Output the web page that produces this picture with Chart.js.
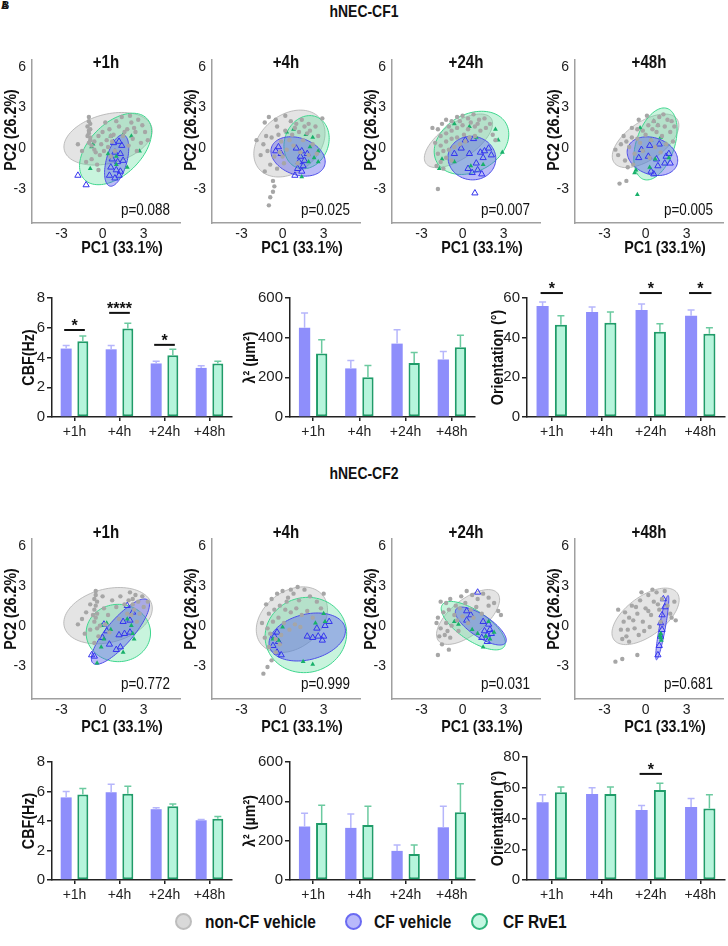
<!DOCTYPE html>
<html>
<head>
<meta charset="utf-8">
<script src="https://cdn.jsdelivr.net/npm/chart.js@4.4.1/dist/chart.umd.min.js"></script>
<style>
  body { margin: 0; width: 728px; height: 946px; background: #fff; position: relative; overflow: hidden;
         font-family: "Liberation Sans", Arial, sans-serif; color: #111; }
  .head { position: absolute; left: 0; width: 728px; text-align: center; font-weight: bold; font-size: 17px;
          transform: scaleX(0.82); transform-origin: 364px 0; }
  .tag { position: absolute; left: 1px; top: 0; font-weight: bold; font-size: 10px; }
  .leg { position: absolute; top: 911px; font-weight: bold; font-size: 18px; line-height: 22px;
         transform: scaleX(0.86); transform-origin: 0 0; }
  .dot { position: absolute; top: 913px; width: 13px; height: 13px; border-radius: 50%; border: 2px solid; }
</style>
</head>
<body>
<div class="tag">A</div><div class="tag" style="left:2px">B</div>
<div class="head" style="top:2px">hNEC-CF1</div>
<div class="head" style="top:464px">hNEC-CF2</div>
<span class="dot" style="left:175px;background:#d9d9d9;border-color:#bdbdbd"></span>
<span class="leg" style="left:205px">non-CF vehicle</span>
<span class="dot" style="left:345px;background:#b9b9fb;border-color:#6a6af2"></span>
<span class="leg" style="left:374px">CF vehicle</span>
<span class="dot" style="left:471px;background:#c4f7e2;border-color:#2fb57c"></span>
<span class="leg" style="left:503px">CF RvE1</span>
<script>
const timepoints = ['+1h', '+4h', '+24h', '+48h'];
const pcTicksX = [-3, 0, 3];
const pcTicksY = [-3, 0, 3, 6];

// ---- hNEC-CF1 PCA ----
const cf1PValues = ['p=0.088', 'p=0.025', 'p=0.007', 'p=0.005'];
// ellipse: [centerX, centerY, semiMajor, semiMinor, angleDeg]
const cf1GrayEll = [[0.4, 0.7, 3.3, 1.8, 15], [0.5, 0.35, 2.9, 2.1, 40], [-0.3, 0.55, 2.9, 1.3, 35], [0, 0.55, 2.8, 1.4, 35]];
const cf1GreenEll = [[0.95, -0.05, 3.2, 1.9, 45], [1.75, 0.45, 2.0, 1.6, 70], [0.65, 0.4, 2.9, 2.1, 30], [0.72, 0.32, 2.75, 1.4, 72]];
const cf1BlueEll = [[1.03, -0.9, 1.95, 0.75, 75], [1.13, -0.6, 2.05, 1.35, -20], [0.68, -0.72, 1.75, 1.6, -10], [0.5, -0.58, 1.9, 1.35, -20]];
const cf1Gray = [
  [[-1.0,2.3],[-1.0,2.0],[-0.9,1.8],[-1.1,1.6],[-0.9,1.4],[-1.0,1.1],[-1.1,0.9],[-0.9,0.6],[-1.0,0.4],[-0.8,0.2],[-0.6,0.5],[-0.3,0.9],[0.0,1.2],[0.3,0.6],[0.5,1.4],[0.8,1.0],[1.2,1.6],[1.5,0.9],[1.8,1.4],[2.1,1.9],[2.4,1.2],[2.6,2.1],[2.9,1.7],[3.1,1.2],[3.3,0.6],[2.8,0.4],[2.2,0.7],[1.9,0.2],[-0.5,-0.3],[-0.2,-0.5],[-0.8,-0.8],[-0.4,-1.2],[0.1,-0.2],[0.4,0.1],[-1.5,-0.2],[-1.8,0.3],[0.6,-0.6],[-0.3,-1.6],[1.0,2.0],[1.4,2.3],[0.2,1.9],[2.0,2.4],[2.5,-0.2],[-1.2,-1.0],[0.7,0.5],[-0.1,0.3],[-1.0,1.3],[-0.9,0.8],[0.6,0.9],[1.6,1.2],[2.3,1.5],[-0.6,-0.1],[0.9,-0.2]],
  [[-1.3,1.9],[-1.0,2.3],[-0.5,2.1],[0.2,2.4],[0.6,2.0],[1.0,1.8],[1.4,2.1],[1.9,1.8],[2.4,1.6],[2.9,2.2],[2.6,0.9],[2.2,0.3],[1.8,1.1],[1.2,1.2],[0.7,1.0],[0.2,1.3],[-0.3,1.0],[-0.8,0.8],[-1.4,0.3],[-1.9,0.6],[-1.6,-0.5],[-1.1,-0.2],[-0.6,-0.6],[-0.2,-0.3],[0.3,-0.1],[0.8,0.2],[1.3,-0.3],[1.9,-0.5],[2.5,-0.4],[-0.9,-1.2],[-0.4,-1.5],[0.1,-1.1],[-1.3,-1.7],[-0.7,-2.4],[-0.6,-2.8],[-0.7,-3.2],[-0.9,-3.6],[-1.0,-4.2],[0.5,0.6],[1.5,0.6],[-0.1,0.5],[2.0,1.3],[0.0,-0.6],[1.1,-1.1],[0.9,1.5],[-0.4,1.6],[1.6,1.6],[-1.2,0.9]],
  [[-2.2,1.5],[-1.8,1.4],[-1.5,1.8],[-1.2,2.1],[-0.8,2.0],[-0.4,2.3],[0.0,2.4],[0.4,2.2],[0.8,2.5],[1.2,2.1],[1.6,2.2],[2.0,1.8],[-1.6,0.9],[-1.2,1.1],[-0.8,1.3],[-0.4,1.5],[0.0,1.7],[0.4,1.4],[0.9,1.6],[1.3,1.3],[1.7,1.5],[-2.0,0.4],[-1.6,0.2],[-1.2,0.5],[-0.8,0.7],[-0.4,0.8],[0.1,1.0],[0.5,0.8],[0.9,0.9],[-1.8,-0.4],[-1.4,-0.2],[-1.0,-0.1],[-0.6,0.1],[-0.2,0.3],[-1.6,-1.0],[-1.2,-0.7],[-0.8,-0.9],[-1.9,-1.3],[-1.4,-1.5],[-1.8,-3.0],[2.2,1.0],[2.4,0.6],[-0.2,2.0],[0.6,1.9],[-1.0,1.6],[0.2,0.5],[1.1,1.8]],
  [[-2.0,-0.5],[-1.8,0.3],[-1.5,-0.9],[-1.6,0.9],[-1.2,0.1],[-1.0,0.8],[-0.8,-0.4],[-0.6,1.4],[-0.4,0.4],[-0.2,-0.2],[0.0,1.0],[0.2,1.7],[0.4,0.6],[0.6,2.0],[0.8,1.2],[1.0,2.3],[1.2,0.9],[1.4,1.6],[1.6,2.1],[1.8,1.2],[2.0,0.5],[2.1,1.6],[-1.0,1.5],[-0.5,2.1],[0.1,2.4],[0.7,0.1],[-1.3,-1.4],[-2.2,-0.1],[0.3,-0.7],[-0.9,-1.2],[1.5,0.3],[1.1,-0.3],[-1.9,-2.6],[-1.4,-2.4],[-0.2,1.3],[0.9,1.7],[1.9,2.0],[-0.6,0.7],[0.5,1.4],[-1.4,0.5],[1.3,2.5]]
];
const cf1Blue = [
  [[0.8,0.4],[1.2,0.5],[1.4,0.2],[0.9,-0.3],[1.3,-0.4],[0.7,-0.8],[1.1,-1.0],[1.5,-0.9],[0.6,-1.4],[1.0,-1.6],[1.3,-1.7],[0.5,-2.0],[0.9,-2.2],[1.2,-2.0],[-1.8,-2.0],[-1.2,-2.7]],
  [[-0.3,0.1],[-0.5,-0.2],[-0.1,-0.4],[1.0,0.0],[1.4,-0.2],[1.3,-0.6],[1.8,-0.4],[1.2,-1.0],[1.5,-1.3],[1.1,-1.5],[1.4,-1.7],[0.9,-2.0],[1.6,-0.9]],
  [[0.2,0.6],[0.8,0.7],[-0.1,0.0],[-0.6,-0.4],[0.5,-0.4],[1.3,-0.3],[1.6,-0.2],[1.9,0.0],[2.1,-0.5],[1.5,-0.7],[1.0,-1.1],[0.4,-1.5],[1.1,-1.6],[1.4,-1.9],[0.7,-1.8],[0.9,-3.3]],
  [[-0.3,-0.1],[0.3,0.2],[1.0,0.3],[-0.5,-0.7],[0.2,-0.6],[0.8,-0.8],[1.5,-0.6],[1.7,-0.4],[1.4,-1.1],[1.8,-1.1],[0.9,-1.3],[0.6,-1.9],[0.4,-1.7]]
];
const cf1Green = [
  [[0.6,0.9],[1.5,1.0],[2.1,0.9],[2.7,-0.2],[-0.8,0.1],[1.0,-0.6],[1.0,-1.2],[-0.9,-1.5],[1.8,-1.4],[0.4,-0.4],[-0.7,0.3]],
  [[0.8,1.4],[1.7,1.0],[2.2,0.8],[2.0,0.1],[2.6,-0.2],[2.3,-0.7],[1.9,-1.0],[2.6,-1.0],[1.4,-2.1],[0.3,1.2]],
  [[-0.6,1.8],[0.5,1.6],[1.0,0.8],[2.4,1.4],[2.6,0.6],[2.9,-0.3],[-1.5,-0.8],[-1.7,-1.5],[-0.6,-1.0],[1.5,-1.2],[0.6,-1.3]],
  [[-0.4,1.5],[0.6,2.0],[0.9,1.7],[1.1,0.8],[0.4,0.6],[1.5,0.3],[0.7,-0.8],[1.7,-0.7],[0.3,-1.4],[-0.7,-1.6],[-0.8,-1.8],[-0.6,-3.4]]
];

// ---- hNEC-CF2 PCA ----
const cf2PValues = ['p=0.772', 'p=0.999', 'p=0.031', 'p=0.681'];
const cf2GrayEll = [[0.4, 0.75, 3.3, 2.0, 15], [0.68, 0.45, 2.9, 2.1, 40], [0.4, 0.65, 2.8, 1.3, 40], [0, 0.7, 2.9, 1.45, 38]];
const cf2GreenEll = [[1.15, -0.55, 2.35, 2.15, 0], [1.7, -0.7, 3.0, 2.8, 20], [0.78, 0, 2.75, 1.1, -35], [1.12, -0.85, 0.35, 0.1, 85]];
const cf2BlueEll = [[1.3, -0.45, 3.1, 0.95, 50], [1.8, -0.85, 2.85, 1.7, 15], [1.33, -0.03, 2.2, 0.8, -35], [1.22, -0.15, 2.45, 0.22, 80]];
const cf2Gray = [
  [[-0.5,2.6],[-0.5,2.3],[-0.6,2.0],[-0.4,1.8],[-0.5,1.5],[-0.6,1.2],[-0.4,0.9],[-0.5,0.6],[-0.6,0.3],[-0.2,0.0],[-1.5,0.5],[-1.2,1.0],[-0.9,-0.3],[-1.8,0.1],[-1.3,-0.6],[0.1,1.3],[0.4,0.8],[0.7,1.9],[1.0,1.4],[1.3,2.2],[1.6,1.6],[2.0,2.5],[2.2,2.0],[2.2,1.6],[2.3,1.2],[2.1,0.8],[2.6,1.8],[2.9,2.2],[3.0,1.4],[2.7,0.9],[0.2,0.1],[-0.3,-0.8],[-0.6,-1.3],[0.5,-0.5],[1.2,0.5],[1.8,0.9],[-0.9,1.6],[0.0,2.2],[3.3,1.8],[2.5,0.3],[-0.4,-0.2],[-0.7,0.8],[2.4,2.3],[1.9,1.9]],
  [[-1.2,1.6],[-0.8,2.0],[-0.4,2.4],[0.0,2.6],[0.4,2.1],[0.8,2.4],[1.2,1.9],[1.6,2.7],[2.0,2.2],[2.5,1.8],[2.8,1.3],[-1.0,0.9],[-0.6,1.2],[-0.2,1.5],[0.2,1.2],[0.6,1.0],[1.0,1.3],[1.4,0.8],[1.8,1.1],[2.2,0.6],[-1.5,0.2],[-1.1,-0.2],[-0.7,0.3],[-0.3,0.6],[0.1,0.2],[0.5,-0.3],[0.9,0.1],[1.3,-0.1],[-1.3,-0.9],[-0.9,-0.6],[-0.5,-1.0],[-0.1,-0.7],[-1.0,-1.6],[-0.5,-2.0],[-0.8,-2.6],[-1.1,-3.1],[-1.4,-3.6],[3.0,2.4],[0.3,1.8],[-0.2,-1.4],[0.6,2.7],[1.1,2.9]],
  [[-1.6,1.8],[-1.2,1.7],[-0.9,2.0],[-0.5,1.5],[-0.1,2.2],[0.3,2.6],[0.7,2.3],[1.1,2.0],[1.5,2.4],[1.9,2.1],[2.3,1.7],[2.6,1.1],[-1.8,0.6],[-1.4,1.0],[-1.0,1.2],[-0.6,0.8],[-0.2,1.3],[0.2,1.7],[0.6,1.2],[1.0,1.4],[1.4,0.9],[-1.6,-0.2],[-1.2,0.2],[-0.8,0.0],[-0.4,0.4],[0.0,0.7],[0.4,0.2],[-1.3,-0.7],[-0.9,-0.9],[-1.5,-1.4],[-1.0,-1.8],[-1.8,-2.2],[1.9,1.5],[2.8,0.8],[-0.3,-0.4],[-1.9,0.2],[0.8,0.6],[-1.1,-0.4],[-1.7,-0.8]],
  [[-2.0,1.2],[-1.6,0.3],[-1.8,-0.3],[-1.4,-0.8],[-1.2,0.6],[-1.0,1.5],[-0.8,-0.2],[-0.6,0.9],[-0.4,1.9],[-0.2,0.3],[0.0,1.3],[0.2,2.3],[0.4,0.8],[0.6,1.8],[0.8,2.5],[1.0,1.2],[1.2,2.0],[1.4,2.6],[1.6,1.5],[1.8,0.9],[2.1,1.8],[2.2,0.4],[-1.3,-0.3],[-0.9,0.4],[-0.5,-0.7],[-0.1,-0.4],[0.3,-0.1],[-1.7,-1.0],[-1.2,-1.2],[-0.3,2.5],[0.5,2.7],[1.1,0.3],[-2.2,-2.7],[-1.7,-2.5],[-0.6,-2.2],[1.9,0.6],[-0.7,1.4],[0.9,1.6],[0.2,1.1],[-1.5,1.0]]
];
const cf2Blue = [
  [[1.8,1.5],[2.2,1.0],[2.0,0.4],[1.5,0.3],[0.1,0.1],[0.3,-0.4],[0.0,-0.9],[1.2,-0.7],[1.6,-0.6],[2.0,-0.5],[0.5,-1.4],[1.0,-1.8],[1.3,-1.6],[-0.6,-2.3],[-0.8,-2.2]],
  [[-0.4,-0.5],[-0.6,-0.8],[-0.3,-1.2],[-0.7,-1.5],[-0.4,-2.0],[-0.1,-2.2],[1.8,-0.8],[2.2,-0.9],[2.6,-0.8],[3.0,-0.8],[2.5,-0.2],[3.1,0.0],[3.4,0.3],[2.9,-1.1]],
  [[0.3,1.1],[0.6,0.8],[0.3,0.4],[1.5,0.3],[1.9,0.1],[2.0,-0.3],[1.6,-0.4],[1.8,-0.7],[1.4,-0.9],[2.1,-0.6],[1.8,-1.2],[1.1,2.5]],
  [[1.3,2.0],[1.4,1.4],[1.2,0.8],[1.1,0.2],[1.2,-0.3],[1.1,-0.8],[1.0,-1.5],[0.9,-2.2]]
];
const cf2Green = [
  [[-0.1,0.0],[0.3,0.2],[0.6,-0.3],[1.8,0.5],[2.1,0.0],[2.2,-0.6],[0.1,-1.0],[-0.1,-1.6],[1.5,-2.0],[-0.4,-2.8],[2.3,-1.0]],
  [[0.0,-0.1],[-0.7,-1.0],[-0.3,-1.1],[2.4,0.2],[3.1,0.3],[1.5,-2.7],[2.2,-2.9],[3.0,0.9]],
  [[-0.6,0.3],[-0.3,0.1],[0.7,-0.3],[1.1,-0.6],[1.9,0.3],[1.7,-0.8],[2.3,-0.5],[1.5,-1.6],[2.0,-1.0]],
  [[1.1,-0.6],[1.1,-0.9],[1.15,-1.1],[1.05,-0.75]]
];

// ---- bar charts: mean and top of error bar ----
const cf1CbfVehicle = [4.6, 4.55, 3.6, 3.3];
const cf1CbfVehicleErr = [4.8, 4.8, 3.75, 3.45];
const cf1CbfRve = [5.1, 5.95, 4.15, 3.6];
const cf1CbfRveErr = [5.45, 6.3, 4.55, 3.75];
const cf1CbfSig = ['*', '****', '*', ''];
const cf1CbfSigAt = [5.85, 7.0, 4.85, 0];

const cf1LamVehicle = [450, 245, 370, 290];
const cf1LamVehicleErr = [525, 285, 440, 330];
const cf1LamRve = [320, 200, 272, 352];
const cf1LamRveErr = [390, 260, 325, 412];

const cf1OriVehicle = [56, 53, 54, 51];
const cf1OriVehicleErr = [58, 55.5, 57, 54];
const cf1OriRve = [46.5, 47.5, 43, 42];
const cf1OriRveErr = [51, 53, 47, 45];
const cf1OriSig = ['*', '', '*', '*'];
const cf1OriSigAt = [62.5, 0, 62.5, 62.5];

const cf2CbfVehicle = [5.6, 5.95, 4.8, 4.05];
const cf2CbfVehicleErr = [6.0, 6.5, 4.9, 4.1];
const cf2CbfRve = [5.8, 5.85, 5.0, 4.15];
const cf2CbfRveErr = [6.2, 6.35, 5.15, 4.3];

const cf2LamVehicle = [272, 265, 148, 268];
const cf2LamVehicleErr = [340, 335, 178, 375];
const cf2LamRve = [290, 280, 132, 345];
const cf2LamRveErr = [380, 375, 178, 490];

const cf2OriVehicle = [50.5, 56, 45.5, 47.5];
const cf2OriVehicleErr = [55.5, 60, 48.5, 53];
const cf2OriRve = [57, 56, 58.5, 46.5];
const cf2OriRveErr = [60.5, 60.5, 63, 55.5];
const cf2OriSig = ['', '', '*', ''];
const cf2OriSigAt = [0, 0, 69, 0];

// ------------------------------------------------------------
const FONT = '"Liberation Sans", Arial, sans-serif';
const SQUEEZE = 0.84; // reference uses a narrow typeface
Chart.defaults.font.family = FONT;
Chart.defaults.color = '#222';
Chart.defaults.animation = false;
Chart.defaults.plugins.legend.display = false;
Chart.defaults.plugins.tooltip.enabled = false;

function place(left, top, w, h) {
  const c = document.createElement('canvas');
  c.width = w; c.height = h;
  c.style.cssText = `position:absolute;left:${left}px;top:${top}px;width:${w}px;height:${h}px`;
  document.body.appendChild(c);
  return c;
}

// condensed text, optionally rotated for vertical axis titles
function narrowText(ctx, text, x, y, font, align, rotate) {
  ctx.save();
  ctx.translate(x, y);
  if (rotate) ctx.rotate(-Math.PI / 2);
  ctx.scale(SQUEEZE, 1);
  ctx.font = font;
  ctx.fillStyle = '#111';
  ctx.textAlign = align;
  ctx.textBaseline = 'middle';
  ctx.fillText(text, 0, 0);
  ctx.restore();
}

const ellipsePlugin = {
  id: 'ellipses',
  beforeDatasetsDraw(chart, args, opts) {
    const { ctx, scales: { x, y } } = chart;
    opts.list.forEach(e => {
      const [cx, cy, a, b, deg] = e.shape;
      const t = deg * Math.PI / 180;
      ctx.save();
      ctx.beginPath();
      for (let i = 0; i <= 90; i++) {
        const u = i / 90 * 2 * Math.PI;
        const dx = a * Math.cos(u), dy = b * Math.sin(u);
        const px = x.getPixelForValue(cx + dx * Math.cos(t) - dy * Math.sin(t));
        const py = y.getPixelForValue(cy + dx * Math.sin(t) + dy * Math.cos(t));
        if (i) ctx.lineTo(px, py); else ctx.moveTo(px, py);
      }
      ctx.closePath();
      ctx.fillStyle = e.fill;
      ctx.fill();
      ctx.strokeStyle = e.stroke;
      ctx.lineWidth = 1;
      ctx.stroke();
      ctx.restore();
    });
  }
};

const panelTextPlugin = {
  id: 'panelText',
  afterDraw(chart, args, o) {
    const { ctx, chartArea: a } = chart;
    narrowText(ctx, o.title, a.left + 74, a.top + o.titleDy, `bold 18px ${FONT}`, 'center');
    narrowText(ctx, o.p, a.right - 10, a.bottom + o.pDy, `16px ${FONT}`, 'right');
    narrowText(ctx, 'PC1 (33.1%)', a.left + 90, a.bottom + o.xTitleDy, `bold 17px ${FONT}`, 'center');
    narrowText(ctx, 'PC2 (26.2%)', a.left - 21, a.top + 70, `bold 17px ${FONT}`, 'center', true);
  }
};

function pcaPanel(left, top, padTop, plotH, xAxisH, gray, blue, green, ells, title, p, titleDy, pDy, xTitleDy) {
  const c = place(left, top, 185, padTop + plotH + xAxisH);
  const pts = arr => arr.map(([x, y]) => ({ x, y }));
  new Chart(c, {
    type: 'scatter',
    data: {
      datasets: [
        { data: pts(gray), pointStyle: 'circle', pointRadius: 2.2, backgroundColor: '#a6a6a6', borderWidth: 0 },
        { data: pts(green), pointStyle: 'triangle', pointRadius: 2.8, backgroundColor: '#18b06a', borderWidth: 0 },
        { data: pts(blue), pointStyle: 'triangle', pointRadius: 3.6, backgroundColor: 'rgba(0,0,0,0)', borderColor: '#3434ee', borderWidth: 1 }
      ]
    },
    options: {
      responsive: false,
      layout: { padding: { top: padTop, right: 2, left: 0, bottom: 0 } },
      scales: {
        x: {
          type: 'linear', min: -5.15, max: 5.65,
          afterBuildTicks: s => { s.ticks = pcTicksX.map(v => ({ value: v })); },
          afterFit: s => { s.height = xAxisH; },
          grid: { display: false, drawTicks: false },
          border: { display: true, color: '#a0a0a0', width: 1.5 },
          ticks: { font: { size: 14 }, padding: 3, color: '#222' }
        },
        y: {
          type: 'linear', min: -5.5, max: 6.5,
          afterBuildTicks: s => { s.ticks = pcTicksY.map(v => ({ value: v })); },
          afterFit: s => { s.width = 32; },
          grid: { display: false, drawTicks: false },
          border: { display: true, color: '#a0a0a0', width: 1.5 },
          ticks: { font: { size: 14 }, padding: 6, color: '#222' }
        }
      },
      plugins: {
        ellipses: {
          list: [
            { shape: ells[0], fill: 'rgba(196,196,196,0.45)', stroke: 'rgba(175,175,175,0.8)' },
            { shape: ells[1], fill: 'rgba(85,222,150,0.32)', stroke: '#3fd68e' },
            { shape: ells[2], fill: 'rgba(84,84,236,0.40)', stroke: '#4c4ce8' }
          ]
        },
        panelText: { title, p, titleDy, pDy, xTitleDy }
      }
    },
    plugins: [ellipsePlugin, panelTextPlugin]
  });
}

const errorBarPlugin = {
  id: 'errorBars',
  afterDatasetsDraw(chart) {
    const { ctx, scales: { y } } = chart;
    chart.data.datasets.forEach((ds, i) => {
      chart.getDatasetMeta(i).data.forEach((bar, j) => {
        const top = y.getPixelForValue(ds.errTop[j]);
        ctx.save();
        ctx.strokeStyle = ds.errColor;
        ctx.lineWidth = 1.5;
        ctx.beginPath();
        ctx.moveTo(bar.x, bar.y);
        ctx.lineTo(bar.x, top);
        ctx.moveTo(bar.x - 3.5, top);
        ctx.lineTo(bar.x + 3.5, top);
        ctx.stroke();
        ctx.restore();
      });
    });
  }
};

const sigPlugin = {
  id: 'sig',
  afterDatasetsDraw(chart, args, o) {
    const { ctx, chartArea: a, scales: { y } } = chart;
    narrowText(ctx, o.label, a.left - o.titleOffset, (a.top + a.bottom) / 2, `bold 17px ${FONT}`, 'center', true);
    if (!o.marks) return;
    const m0 = chart.getDatasetMeta(0).data, m1 = chart.getDatasetMeta(1).data;
    o.marks.forEach((txt, j) => {
      if (!txt) return;
      const py = y.getPixelForValue(o.levels[j]);
      ctx.save();
      ctx.strokeStyle = '#111';
      ctx.lineWidth = 2;
      ctx.beginPath();
      ctx.moveTo(m0[j].x - 2, py);
      ctx.lineTo(m1[j].x + 2, py);
      ctx.stroke();
      ctx.fillStyle = '#111';
      ctx.font = `bold 16px ${FONT}`;
      ctx.textAlign = 'center';
      ctx.textBaseline = 'alphabetic';
      ctx.fillText(txt, (m0[j].x + m1[j].x) / 2, py + 1);
      ctx.restore();
    });
  }
};

function barPanel(o) {
  const c = place(o.left, o.top, o.width, o.padTop + o.plotH + 30);
  new Chart(c, {
    type: 'bar',
    data: {
      labels: timepoints,
      datasets: [
        { data: o.veh, errTop: o.vehErr, errColor: '#b6b6fb', backgroundColor: '#8e8efb', borderWidth: 0,
          categoryPercentage: 0.74, barPercentage: 0.66 },
        { data: o.rve, errTop: o.rveErr, errColor: '#6ccaa0', backgroundColor: '#b6f5dc', borderColor: '#1f9c69',
          borderWidth: 2, borderSkipped: false, categoryPercentage: 0.74, barPercentage: 0.66 }
      ]
    },
    options: {
      responsive: false,
      layout: { padding: { top: o.padTop, right: o.padRight, left: 0, bottom: 0 } },
      scales: {
        x: {
          afterFit: s => { s.height = 30; },
          grid: { display: true, drawOnChartArea: false, offset: false, tickLength: 4, color: '#222', lineWidth: 1.5 },
          border: { display: true, color: '#222', width: 1.5 },
          ticks: { font: { size: 14 }, padding: 3, color: '#222' }
        },
        y: {
          min: 0, max: o.max,
          afterFit: s => { s.width = o.yWidth; },
          grid: { display: true, drawOnChartArea: false, tickLength: 5, color: '#222', lineWidth: 1.5 },
          border: { display: true, color: '#222', width: 1.5 },
          ticks: { stepSize: o.step, font: { size: 15 }, padding: 2, color: '#222' }
        }
      },
      plugins: { sig: { marks: o.sig, levels: o.sigAt, label: o.label, titleOffset: o.titleOffset } }
    },
    plugins: [errorBarPlugin, sigPlugin]
  });
}

const pcaLefts = [0, 180, 360, 543];
timepoints.forEach((t, k) => {
  pcaPanel(pcaLefts[k], 40, 20, 163, 34, cf1Gray[k], cf1Blue[k], cf1Green[k],
    [cf1GrayEll[k], cf1GreenEll[k], cf1BlueEll[k]], t, cf1PValues[k], 3, -12, 25);
  pcaPanel(pcaLefts[k], 515, 24, 160, 37, cf2Gray[k], cf2Blue[k], cf2Green[k],
    [cf2GrayEll[k], cf2GreenEll[k], cf2BlueEll[k]], t, cf2PValues[k], -6, -14, 28);
});

// row 1 bars
barPanel({ left: 0, top: 270, width: 240, padTop: 28, plotH: 119, padRight: 8, yWidth: 52, titleOffset: 23,
  veh: cf1CbfVehicle, vehErr: cf1CbfVehicleErr, rve: cf1CbfRve, rveErr: cf1CbfRveErr,
  max: 8, step: 2, label: 'CBF(Hz)', sig: cf1CbfSig, sigAt: cf1CbfSigAt });
barPanel({ left: 240, top: 270, width: 240, padTop: 28, plotH: 119, padRight: 5, yWidth: 50, titleOffset: 40,
  veh: cf1LamVehicle, vehErr: cf1LamVehicleErr, rve: cf1LamRve, rveErr: cf1LamRveErr,
  max: 600, step: 200, label: 'λ² (µm²)' });
barPanel({ left: 480, top: 270, width: 248, padTop: 28, plotH: 119, padRight: 3, yWidth: 47, titleOffset: 29,
  veh: cf1OriVehicle, vehErr: cf1OriVehicleErr, rve: cf1OriRve, rveErr: cf1OriRveErr,
  max: 60, step: 20, label: 'Orientation (°)', sig: cf1OriSig, sigAt: cf1OriSigAt });

// row 2 bars
barPanel({ left: 0, top: 735, width: 240, padTop: 27, plotH: 118, padRight: 8, yWidth: 52, titleOffset: 23,
  veh: cf2CbfVehicle, vehErr: cf2CbfVehicleErr, rve: cf2CbfRve, rveErr: cf2CbfRveErr,
  max: 8, step: 2, label: 'CBF(Hz)' });
barPanel({ left: 240, top: 735, width: 240, padTop: 27, plotH: 118, padRight: 5, yWidth: 50, titleOffset: 40,
  veh: cf2LamVehicle, vehErr: cf2LamVehicleErr, rve: cf2LamRve, rveErr: cf2LamRveErr,
  max: 600, step: 200, label: 'λ² (µm²)' });
barPanel({ left: 480, top: 735, width: 248, padTop: 22, plotH: 123, padRight: 3, yWidth: 47, titleOffset: 29,
  veh: cf2OriVehicle, vehErr: cf2OriVehicleErr, rve: cf2OriRve, rveErr: cf2OriRveErr,
  max: 80, step: 20, label: 'Orientation (°)', sig: cf2OriSig, sigAt: cf2OriSigAt });
</script>
</body>
</html>
